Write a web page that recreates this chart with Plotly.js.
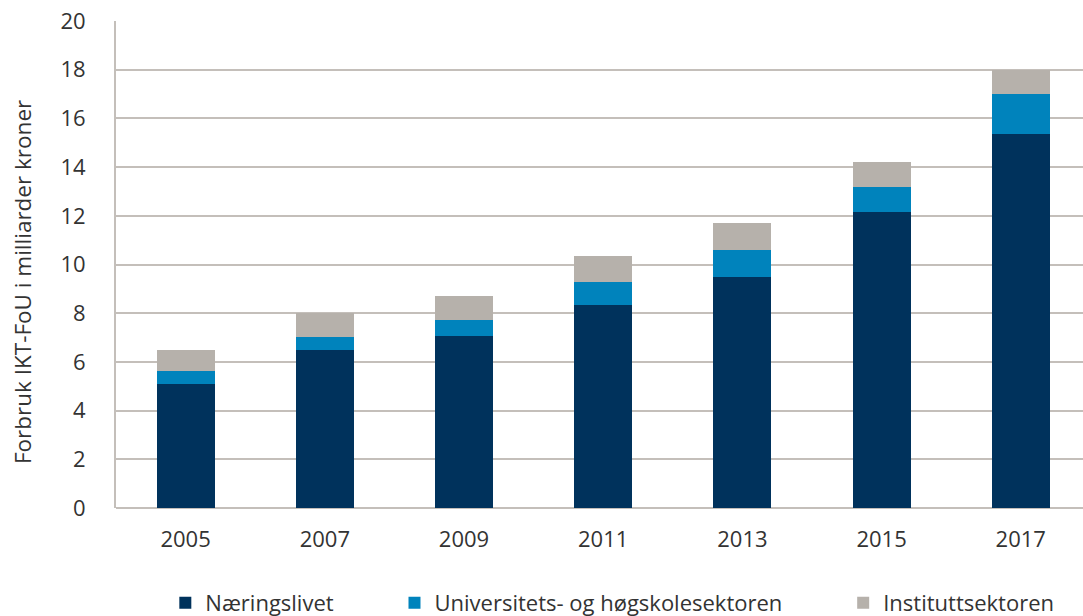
<!DOCTYPE html>
<html><head><meta charset="utf-8">
<script src="https://cdn.plot.ly/plotly-3.0.1.min.js"></script>
<style>html,body{margin:0;padding:0;background:#fff}#chart{width:1083px;height:616px}</style>
</head><body><div id="chart"></div>
<script>
const years = ['2005','2007','2009','2011','2013','2015','2017'];
const naeringslivet = [5.11, 6.49, 7.08, 8.34, 9.50, 12.14, 15.35];
const universitet = [0.51, 0.53, 0.63, 0.93, 1.11, 1.04, 1.65];
const institutt = [0.87, 0.98, 1.01, 1.09, 1.08, 1.03, 0.99];
const names = ['Næringslivet', 'Universitets- og høgskolesektoren', 'Instituttsektoren'];
const yTitle = 'Forbruk IKT-FoU i milliarder kroner';
const colors = ['#00325c', '#0083bc', '#b6b1ab'];
const series = [naeringslivet, universitet, institutt];
const legendIds = ['legend', 'legend2', 'legend3'];
const legendX = [0.051, 0.288, 0.752];

const traces = series.map((s, i) => ({
  type: 'bar', x: years, y: s, name: names[i], legend: legendIds[i],
  marker: {color: colors[i], line: {width: 0}}
}));

const layout = {
  width: 1083, height: 616,
  margin: {l: 116, r: 0, t: 21, b: 108},
  barmode: 'stack', bargap: 0.583,
  paper_bgcolor: '#fff', plot_bgcolor: '#fff',
  font: {family: 'Open Sans, sans-serif', color: '#333', size: 22},
  showlegend: true,
  xaxis: {type: 'category', range: [-0.5, 6.447], showgrid: false, zeroline: false,
          showline: false, ticks: '', ticklabelstandoff: 16, tickfont: {size: 22}},
  yaxis: {range: [0, 20], dtick: 2, showgrid: true, gridcolor: '#c4bfba', gridwidth: 2,
          zeroline: true, zerolinecolor: '#c4bfba', zerolinewidth: 2,
          showline: true, linecolor: '#c4bfba', linewidth: 2, ticks: '',
          ticklabelstandoff: 24, tickfont: {size: 22}},
  annotations: [{text: yTitle, xref: 'paper', yref: 'paper', x: -0.0972, y: 0.464,
                 xanchor: 'center', yanchor: 'middle', textangle: -90, showarrow: false,
                 font: {size: 22.5, color: '#333'}}]
};
legendIds.forEach((id, i) => {
  layout[id] = {orientation: 'h', x: legendX[i], xanchor: 'left', xref: 'paper',
                y: 0.021, yanchor: 'middle', yref: 'container',
                font: {size: 22, color: '#333'}, itemwidth: 30, bgcolor: 'rgba(0,0,0,0)'};
});
Plotly.newPlot('chart', traces, layout, {staticPlot: true, displayModeBar: false});
</script></body></html>
